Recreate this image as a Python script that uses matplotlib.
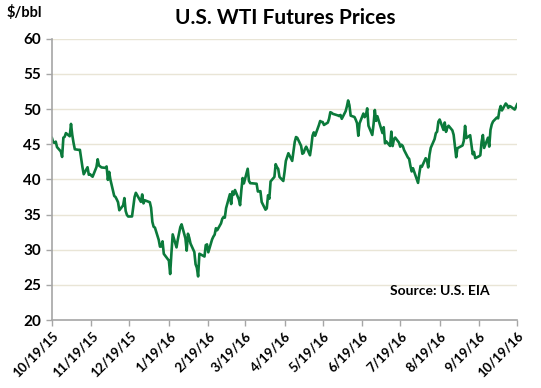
import matplotlib
matplotlib.use("Agg")
import matplotlib.pyplot as plt
import pandas as pd

# WTI front-month closes, $/bbl, one entry per trading day
dates = (
    ["2015-10-%02d" % d for d in [19, 20, 21, 22, 23, 26, 27, 28, 29, 30]]
    + ["2015-11-%02d" % d for d in [2, 3, 4, 5, 6, 9, 10, 11, 12, 13, 16, 17, 18, 19, 20, 23, 24, 25, 27, 30]]
    + ["2015-12-%02d" % d for d in [1, 2, 3, 4, 7, 8, 9, 10, 11, 14, 15, 16, 17, 18, 21, 22, 23, 24, 28, 29, 30, 31]]
    + ["2016-01-%02d" % d for d in [4, 5, 6, 7, 8, 11, 12, 13, 14, 15, 19, 20, 21, 22, 25, 26, 27, 28, 29]]
    + ["2016-02-%02d" % d for d in [1, 2, 3, 4, 5, 8, 9, 10, 11, 12, 16, 17, 18, 19, 22, 23, 24, 25, 26, 29]]
    + ["2016-03-%02d" % d for d in [1, 2, 3, 4, 7, 8, 9, 10, 11, 14, 15, 16, 17, 18, 21, 22, 23, 24, 28, 29, 30, 31]]
    + ["2016-04-%02d" % d for d in [1, 4, 5, 6, 7, 8, 11, 12, 13, 14, 15, 18, 19, 20, 21, 22, 25, 26, 27, 28, 29]]
    + ["2016-05-%02d" % d for d in [2, 3, 4, 5, 6, 9, 10, 11, 12, 13, 16, 17, 18, 19, 20, 23, 24, 25, 26, 27, 31]]
    + ["2016-06-%02d" % d for d in [1, 2, 3, 6, 7, 8, 9, 10, 13, 14, 15, 16, 17, 20, 21, 22, 23, 24, 27, 28, 29, 30]]
    + ["2016-07-%02d" % d for d in [1, 5, 6, 7, 8, 11, 12, 13, 14, 15, 18, 19, 20, 21, 22, 25, 26, 27, 28, 29]]
    + ["2016-08-%02d" % d for d in [1, 2, 3, 4, 5, 8, 9, 10, 11, 12, 15, 16, 17, 18, 19, 22, 23, 24, 25, 26, 29, 30, 31]]
    + ["2016-09-%02d" % d for d in [1, 2, 6, 7, 8, 9, 12, 13, 14, 15, 16, 19, 20, 21, 22, 23, 26, 27, 28, 29, 30]]
    + ["2016-10-%02d" % d for d in [3, 4, 5, 6, 7, 10, 11, 12, 13, 14, 17, 18, 19]]
)

prices = [
    45.89, 45.29, 45.20, 45.38, 44.60, 43.98, 43.20, 45.94, 46.06, 46.59,
    46.14, 47.90, 46.32, 45.20, 44.29, 44.21, 44.21, 42.93, 41.75, 40.74,
    41.74, 40.67, 40.75, 40.54, 40.39, 41.75, 42.87, 41.98, 41.71, 41.65,
    41.85, 39.94, 41.08, 39.97, 37.65, 37.51, 37.16, 36.76, 35.62, 36.31,
    37.35, 35.52, 34.95, 34.73, 34.74, 36.14, 37.50, 38.10, 36.81, 37.87,
    36.60, 37.04,
    36.76, 35.97, 33.97, 33.27, 33.16, 31.41, 30.44, 30.48, 31.20, 29.42,
    28.46, 26.55, 29.53, 32.19, 30.34, 31.45, 32.30, 33.22, 33.62,
    31.62, 29.88, 32.28, 31.72, 30.89, 29.69, 27.94, 27.45, 26.21, 29.44,
    29.04, 30.66, 30.77, 29.64, 31.48, 31.87, 32.15, 33.07, 32.78, 33.75,
    34.40, 34.66, 34.57, 35.92, 37.90, 36.50, 38.29, 37.84, 38.50, 37.18,
    36.34, 38.46, 40.20, 39.44, 41.52, 39.79, 39.47, 39.46, 39.39, 38.28,
    38.32, 38.34,
    36.79, 35.70, 35.89, 37.75, 37.26, 39.72, 40.36, 42.17, 41.76, 41.50,
    40.36, 39.78, 41.08, 42.63, 43.18, 43.73, 42.64, 44.04, 45.33, 46.03,
    45.92,
    44.78, 43.65, 43.78, 44.32, 44.66, 43.44, 44.66, 46.23, 46.70, 46.21,
    47.72, 48.31, 48.19, 48.16, 47.75, 48.08, 48.62, 49.56, 49.48, 49.33,
    49.10,
    49.01, 49.17, 48.62, 49.69, 50.36, 51.23, 50.56, 49.07, 48.88, 48.49,
    48.01, 46.21, 47.98, 49.37, 48.85, 49.13, 50.11, 47.64, 46.33, 47.85,
    49.88, 48.33,
    48.99, 46.60, 47.43, 45.14, 45.41, 44.76, 46.80, 44.75, 45.68, 45.95,
    45.24, 44.65, 44.94, 44.75, 44.19, 43.13, 42.92, 41.92, 41.14, 41.60,
    40.06, 39.51, 40.83, 41.93, 41.80, 43.02, 42.77, 41.71, 43.49, 44.49,
    45.74, 46.58, 46.79, 48.22, 48.52, 47.05, 48.10, 46.77, 47.33, 47.64,
    46.98, 46.35, 44.70,
    43.16, 44.44, 44.83, 45.50, 47.62, 45.88, 46.29, 44.90, 43.58, 43.91,
    43.03, 43.30, 43.44, 45.34, 46.32, 44.48, 45.93, 44.67, 47.05, 47.83,
    48.24,
    48.81, 48.69, 49.83, 50.44, 49.81, 50.80, 50.60, 50.18, 50.44, 50.35,
    49.94, 50.29, 50.70,
]

tick_dates = ["2015-10-19", "2015-11-19", "2015-12-19", "2016-01-19", "2016-02-19",
              "2016-03-19", "2016-04-19", "2016-05-19", "2016-06-19", "2016-07-19",
              "2016-08-19", "2016-09-19", "2016-10-19"]
tick_labels = ["10/19/15", "11/19/15", "12/19/15", "1/19/16", "2/19/16", "3/19/16",
               "4/19/16", "5/19/16", "6/19/16", "7/19/16", "8/19/16", "9/19/16", "10/19/16"]
y_ticks = [20, 25, 30, 35, 40, 45, 50, 55, 60]

plt.rcParams['font.family'] = ['Lato', 'DejaVu Sans']

fig = plt.figure(figsize=(5.41, 3.88), dpi=100)
ax = fig.add_axes([0.096, 0.175, 0.86, 0.725])

x = pd.to_datetime(dates)
ax.plot(x, prices, color="#0b7a3b", linewidth=1.9, solid_joinstyle="round")

ax.set_xlim(pd.Timestamp(tick_dates[0]), pd.Timestamp(tick_dates[-1]))
ax.set_ylim(20, 60)
ax.set_yticks(y_ticks)
ax.set_yticklabels([str(v) for v in y_ticks], fontsize=11, fontweight="bold")
ax.set_xticks(pd.to_datetime(tick_dates))
ax.set_xticklabels(tick_labels, rotation=45, ha="right", rotation_mode="anchor",
                   fontsize=9.5, fontweight="bold")

for v in y_ticks[1:]:
    ax.axhline(v, color="#e9e5d6", linewidth=1.0, zorder=0)

for side in ["top", "right"]:
    ax.spines[side].set_visible(False)
ax.spines["left"].set_color("#a6a6a6")
ax.spines["bottom"].set_color("#a6a6a6")
ax.spines["left"].set_linewidth(1.2)
ax.spines["bottom"].set_linewidth(1.2)
ax.tick_params(axis="both", colors="#a6a6a6", labelcolor="black", length=4, width=1)
ax.tick_params(axis="x", pad=3)
ax.tick_params(axis="y", pad=4)

fig.text(0.527, 0.953, "U.S. WTI Futures Prices", ha="center", va="center",
         fontsize=15, fontweight="bold")
fig.text(0.012, 0.968, "$/bbl", ha="left", va="center", fontsize=10.5, fontweight="bold")
ax.text(0.94, 0.105, "Source: U.S. EIA", transform=ax.transAxes, ha="right", va="center",
        fontsize=10, fontweight="bold")

fig.savefig("out.png", dpi=100)
